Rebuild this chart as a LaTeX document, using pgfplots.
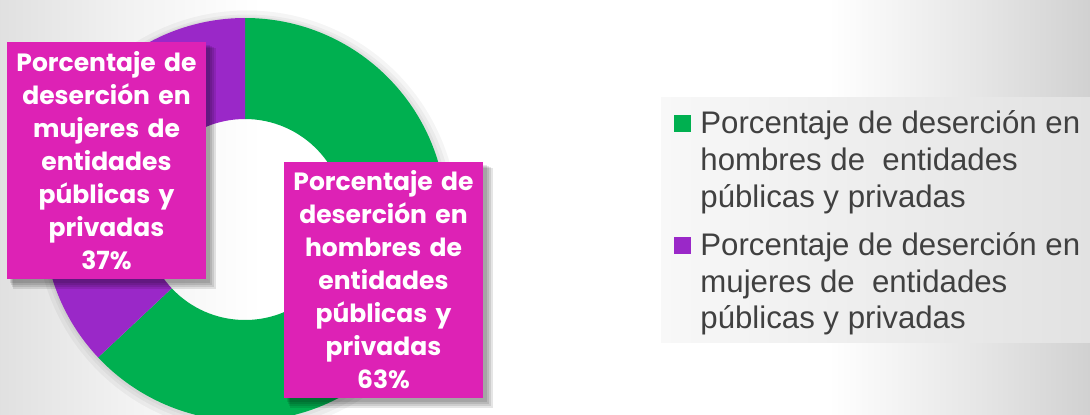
\documentclass[border=0pt]{standalone}
\usepackage{pgfplots}
\pgfplotsset{compat=1.18}
\usepackage{pgfplotstable}
\usepackage{fontspec}
\setmainfont{Liberation Sans}
\newfontfamily\boxfont{Poppins}
\definecolor{pgreen}{HTML}{00B050}
\definecolor{ppurple}{HTML}{9A28C8}
\definecolor{pmag}{HTML}{DD22B5}
\definecolor{ltext}{HTML}{404040}
\definecolor{legL}{HTML}{F8F8F8}
\definecolor{legR}{HTML}{E2E2E2}
\pgfdeclarehorizontalshading{bgshade}{100bp}{color(0bp)=(black!12); color(25bp)=(black!12); color(31bp)=(black!5); color(37bp)=(white); color(63bp)=(white); color(70bp)=(black!10); color(75bp)=(black!18); color(100bp)=(black!18)}
\newcommand\donutslice[3]{%
  \fill[#1] (axis cs:{\cx+\Ro*cos(#2)},{\cy+\Ro*sin(#2)}) arc[start angle=#2, end angle=#3, radius=\Ro*0.5pt]
    -- (axis cs:{\cx+\Ri*cos(#3)},{\cy+\Ri*sin(#3)}) arc[start angle=#3, end angle=#2, radius=\Ri*0.5pt] -- cycle;}
\pgfplotstableread{
slice value
Hombres 63
Mujeres 37
}\piedata
\def\cx{245}\def\cy{194.5}\def\Ro{201.5}\def\Ri{100.5}
\begin{document}%
\begin{tikzpicture}
\pgfplotstablegetelem{0}{value}\of\piedata \edef\vA{\pgfplotsretval}
\pgfplotstablegetelem{1}{value}\of\piedata \edef\vB{\pgfplotsretval}
\pgfmathsetmacro\aMid{90-3.6*\vA}
\pgfmathsetmacro\aEnd{\aMid-3.6*\vB}
\begin{axis}[scale only axis, width=545pt, height=207pt, at={(0pt,0pt)}, anchor=origin,
  xmin=0, xmax=1090, ymin=0, ymax=414, hide axis, clip=true]
\shade[shading=bgshade] (axis cs:0,0) rectangle (axis cs:1090,414);
% soft halo of the ring
\fill[black, opacity=0.04, even odd rule] (axis cs:\cx+2,\cy-2) circle[radius=105.5pt] (axis cs:\cx,\cy) circle[radius=100pt];
\fill[black, opacity=0.04, even odd rule] (axis cs:\cx+2,\cy-2) circle[radius=103.5pt] (axis cs:\cx,\cy) circle[radius=100pt];
\fill[black, opacity=0.04, even odd rule] (axis cs:\cx+1,\cy-1) circle[radius=102pt] (axis cs:\cx,\cy) circle[radius=100pt];
% ring
\donutslice{pgreen}{90}{\aMid}
\donutslice{ppurple}{\aMid}{\aEnd}
% legend
\shade[left color=legL, right color=legR] (axis cs:661,72) rectangle (axis cs:1090,317);
\fill[pgreen] (axis cs:674,282) rectangle (axis cs:691,299);
\fill[ppurple] (axis cs:674,160) rectangle (axis cs:691,177);
\node[anchor=base west, inner sep=0pt, text=ltext, font=\fontsize{15.6pt}{18pt}\selectfont] at (axis cs:700,281) {Porcentaje de deserción en};
\node[anchor=base west, inner sep=0pt, text=ltext, font=\fontsize{15.6pt}{18pt}\selectfont] at (axis cs:700,244) {hombres de\ \ entidades};
\node[anchor=base west, inner sep=0pt, text=ltext, font=\fontsize{15.6pt}{18pt}\selectfont] at (axis cs:700,207) {públicas y privadas};
\node[anchor=base west, inner sep=0pt, text=ltext, font=\fontsize{15.6pt}{18pt}\selectfont] at (axis cs:700,159) {Porcentaje de deserción en};
\node[anchor=base west, inner sep=0pt, text=ltext, font=\fontsize{15.6pt}{18pt}\selectfont] at (axis cs:700,122) {mujeres de\ \ entidades};
\node[anchor=base west, inner sep=0pt, text=ltext, font=\fontsize{15.6pt}{18pt}\selectfont] at (axis cs:700,86) {públicas y privadas};
% label box shadows
\fill[black,opacity=0.10] (axis cs:13,125) rectangle (axis cs:216,366);
\fill[black,opacity=0.10] (axis cs:12,127) rectangle (axis cs:214,367);
\fill[black,opacity=0.10] (axis cs:11,129) rectangle (axis cs:212,368);
\fill[black,opacity=0.10] (axis cs:10,131) rectangle (axis cs:210,369);
\fill[black,opacity=0.10] (axis cs:290,6) rectangle (axis cs:493,246);
\fill[black,opacity=0.10] (axis cs:289,8) rectangle (axis cs:491,247);
\fill[black,opacity=0.10] (axis cs:288,10) rectangle (axis cs:489,248);
\fill[black,opacity=0.10] (axis cs:287,12) rectangle (axis cs:487,249);
% label boxes
\node[fill=pmag, minimum width=99.5pt, minimum height=118.5pt, inner sep=0pt, text width=96pt, align=center, text=white,
  font=\boxfont\bfseries\fontsize{12.5pt}{16.5pt}\selectfont] at (axis cs:106.5,253.5)
  {Porcentaje de\\deserción en\\mujeres de\\entidades\\públicas y\\privadas\\\vB\%};
\node[fill=pmag, minimum width=99.5pt, minimum height=118pt, inner sep=0pt, text width=96pt, align=center, text=white,
  font=\boxfont\bfseries\fontsize{12.5pt}{16.5pt}\selectfont] at (axis cs:383.5,134)
  {Porcentaje de\\deserción en\\hombres de\\entidades\\públicas y\\privadas\\\vA\%};
\end{axis}
\pgfresetboundingbox
\path[use as bounding box] (0pt,0pt) rectangle (545pt,207pt);
\end{tikzpicture}%
\end{document}
